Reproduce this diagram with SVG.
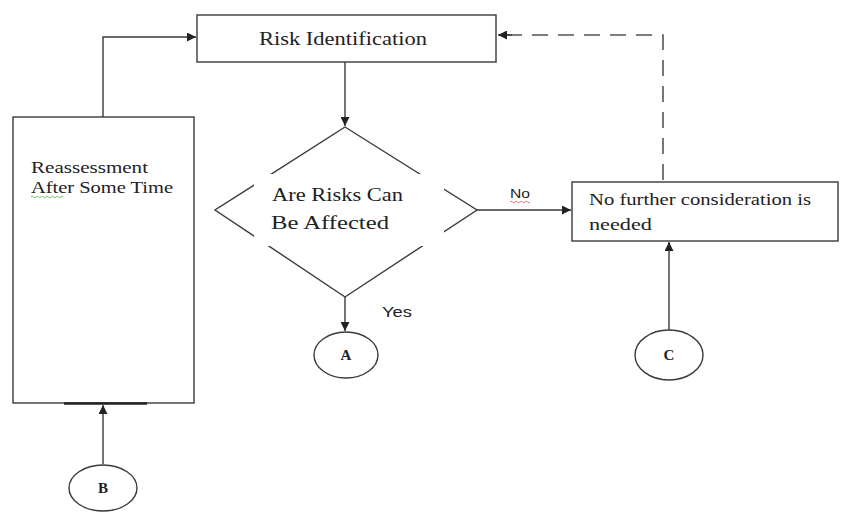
<svg xmlns="http://www.w3.org/2000/svg" width="842" height="512" viewBox="0 0 842 512">
<defs>
<style>
.box{fill:#fff;stroke:#3a3a3a;stroke-width:1.4}
.ln{fill:none;stroke:#3a3a3a;stroke-width:1.4}
.dash{fill:none;stroke:#555;stroke-width:1.6;stroke-dasharray:16 10}
.t{font-family:"Liberation Serif","Times New Roman",serif;fill:#222}
.s{font-family:"Liberation Sans",Arial,sans-serif;fill:#222}
.lbl{font-family:"Liberation Serif","Times New Roman",serif;font-weight:bold;fill:#222;font-size:15px;text-anchor:middle}
</style>
<marker id="ah" viewBox="0 0 10 10" refX="10" refY="5" markerWidth="9" markerHeight="9" markerUnits="userSpaceOnUse" orient="auto">
<path d="M0,0 L10,5 L0,10 z" fill="#222"/>
</marker>
</defs>
<rect width="842" height="512" fill="#fff"/>

<g id="connectors">
<path class="ln" d="M103,117 V37 H196" marker-end="url(#ah)"/>
<path class="ln" d="M345,62 V126" marker-end="url(#ah)"/>
<path class="ln" d="M477,210 H571" marker-end="url(#ah)"/>
<path class="ln" d="M345,297 V331" marker-end="url(#ah)"/>
<path class="ln" d="M669,330 V242" marker-end="url(#ah)"/>
<path class="ln" d="M103,464 V405" marker-end="url(#ah)"/>
<path class="dash" d="M663,180 V35 H498"/>
<path class="ln" d="M512,35 H498" marker-end="url(#ah)"/>
<text class="s" x="510" y="198" font-size="13" textLength="20" lengthAdjust="spacingAndGlyphs">No</text>
<path d="M510,202 q1.25,-1.5 2.5,0 t2.5,0 t2.5,0 t2.5,0 t2.5,0 t2.5,0 t2.5,0 t2.5,0" fill="none" stroke="#e05050" stroke-width="0.8"/>
<text class="s" x="382" y="317" font-size="15" textLength="30" lengthAdjust="spacingAndGlyphs">Yes</text>
</g>

<g id="risk-identification">
<rect class="box" x="197" y="15" width="299" height="47"/>
<text class="t" x="259" y="45" font-size="18" textLength="168" lengthAdjust="spacingAndGlyphs">Risk Identification</text>
</g>

<g id="reassessment">
<rect class="box" x="13" y="117" width="181" height="286"/>
<line x1="64" y1="403.5" x2="147" y2="403.5" stroke="#222" stroke-width="2.6"/>
<text class="t" x="31" y="173" font-size="16" textLength="117" lengthAdjust="spacingAndGlyphs">Reassessment</text>
<text class="t" x="31" y="193" font-size="16" textLength="142" lengthAdjust="spacingAndGlyphs">After Some Time</text>
<path d="M31,197 q1.25,-1.5 2.5,0 t2.5,0 t2.5,0 t2.5,0 t2.5,0 t2.5,0 t2.5,0 t2.5,0 t2.5,0 t2.5,0 t2.5,0 t2.5,0 t2.5,0" fill="none" stroke="#4caf50" stroke-width="0.8"/>
</g>

<g id="decision">
<polygon class="ln" points="345,127 477,210 345,297 215,210"/>
<rect x="254" y="174" width="190" height="72" fill="#fff"/>
<text class="t" x="272" y="201" font-size="19" textLength="131" lengthAdjust="spacingAndGlyphs">Are Risks  Can</text>
<text class="t" x="271" y="229" font-size="19" textLength="118" lengthAdjust="spacingAndGlyphs">Be Affected</text>
</g>

<g id="no-further">
<rect class="box" x="572" y="182" width="266" height="59"/>
<text class="t" x="589" y="205" font-size="16" textLength="222" lengthAdjust="spacingAndGlyphs">No further consideration is</text>
<text class="t" x="589" y="230" font-size="16" textLength="63" lengthAdjust="spacingAndGlyphs">needed</text>
</g>

<g id="node-a">
<ellipse class="box" cx="346" cy="355" rx="32" ry="23"/>
<text class="lbl" x="346" y="360">A</text>
</g>

<g id="node-b">
<ellipse class="box" cx="103" cy="488" rx="34" ry="23"/>
<text class="lbl" x="103" y="493">B</text>
</g>

<g id="node-c">
<ellipse class="box" cx="669" cy="355" rx="34" ry="25"/>
<text class="lbl" x="669" y="360">C</text>
</g>
</svg>
